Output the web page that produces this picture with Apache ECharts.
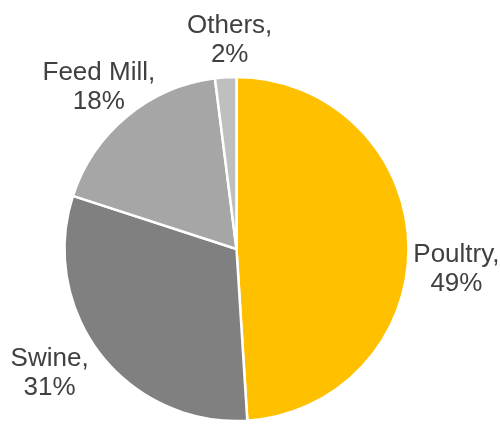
<!DOCTYPE html>
<html>
<head>
<meta charset="utf-8">
<script src="https://cdn.jsdelivr.net/npm/echarts@6/dist/echarts.min.js"></script>
<style>
html,body{margin:0;padding:0;background:#fff;}
#c{width:500px;height:424px;}
</style>
</head>
<body>
<div id="c"></div>
<script>
const categories = ['Poultry', 'Swine', 'Feed Mill', 'Others'];
const values = [49, 31, 18, 2];

const colors = ['#FFC000', '#808080', '#A6A6A6', '#BFBFBF'];
const labelShift = [[43, 26], [-46, 19], [-23, -29], [9, -37]];

const chart = echarts.init(document.getElementById('c'));
chart.setOption({
  animation: false,
  series: [{
    type: 'pie',
    center: [236.5, 249],
    radius: [0, 172],
    startAngle: 90,
    clockwise: true,
    avoidLabelOverlap: false,
    data: categories.map((c, i) => ({ name: c, value: values[i], itemStyle: { color: colors[i] } })),
    itemStyle: { borderColor: '#fff', borderWidth: 2.5 },
    label: {
      show: true,
      position: 'outside',
      formatter: p => p.name + ',\n' + p.value + '%',
      fontFamily: 'Liberation Sans, Arial, sans-serif',
      fontSize: 26,
      lineHeight: 29,
      color: '#404040',
      align: 'center'
    },
    labelLine: { show: false, length: 0, length2: 0 },
    labelLayout: function (p) {
      const s = labelShift[p.dataIndex];
      return { align: 'center', verticalAlign: 'middle', dx: s[0], dy: s[1] };
    },
    emphasis: { disabled: true }
  }]
});
</script>
</body>
</html>
